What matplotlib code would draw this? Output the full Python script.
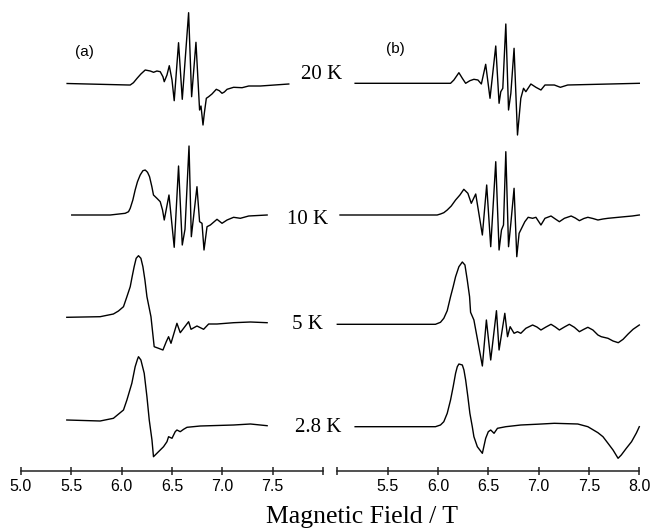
import numpy as np
import matplotlib.pyplot as plt

# (a) measured EPR spectra: field (T) and derivative signal (arb. units)
a20_field = [5.458, 6.068, 6.085, 6.117, 6.153, 6.191, 6.234, 6.284, 6.317, 6.350,
             6.383, 6.410, 6.423, 6.450, 6.473, 6.500, 6.522, 6.565, 6.602, 6.665,
             6.695, 6.738, 6.774, 6.788, 6.808, 6.821, 6.841, 6.864, 6.897, 6.940,
             6.970, 6.997, 7.020, 7.047, 7.112, 7.196, 7.262, 7.378, 7.660]
a20_signal = [1.0, -0.5, -0.5, 1.8, 6.2, 10.5, 14.5, 13.5, 12.2, 13.5,
              12.8, 7.8, 2.8, 9.5, 18.8, 4.5, -16.2, 41.8, -14.8, 71.8,
              -12.2, 42.2, -25.5, -21.5, -40.5, -28.8, -13.8, -12.2, -9.5, -4.8,
              -6.2, -8.8, -7.5, -4.8, -2.8, -3.2, -1.5, -1.5, 0.5]

a10_field = [5.504, 5.886, 6.035, 6.068, 6.085, 6.111, 6.134, 6.157, 6.184, 6.211,
             6.234, 6.257, 6.277, 6.300, 6.316, 6.350, 6.383, 6.406, 6.423, 6.470,
             6.522, 6.565, 6.602, 6.629, 6.669, 6.692, 6.748, 6.774, 6.798, 6.818,
             6.848, 6.881, 6.947, 6.997, 7.047, 7.112, 7.179, 7.262, 7.445]
a10_signal = [0.0, 0.0, 1.7, 3.3, 6.7, 15.0, 25.0, 33.3, 40.0, 44.3,
              45.0, 42.7, 38.3, 28.3, 20.0, 16.7, 13.3, 5.0, -5.0, 20.0,
              -32.3, 49.0, -30.0, -14.3, 69.0, -21.7, 28.3, -6.7, -8.3, -35.0,
              -11.7, -10.0, -4.3, -8.3, -5.0, -2.3, -3.3, -1.0, 0.0]

a5_field = [5.455, 5.786, 5.918, 5.968, 6.018, 6.052, 6.085, 6.104, 6.124, 6.144,
            6.167, 6.191, 6.211, 6.231, 6.251, 6.291, 6.323, 6.366, 6.410, 6.443,
            6.466, 6.490, 6.549, 6.582, 6.665, 6.689, 6.748, 6.814, 6.864, 6.947,
            7.112, 7.279, 7.445]
a5_signal = [0.0, 0.6, 3.3, 6.3, 10.6, 20.6, 30.6, 40.6, 50.6, 59.0,
             61.6, 59.0, 50.6, 37.3, 20.6, 0.6, -29.4, -31.0, -32.7, -24.4,
             -19.4, -26.0, -6.0, -15.4, -4.4, -12.0, -8.7, -12.0, -6.7, -6.7,
             -5.4, -4.7, -5.4]

a28_field = [5.455, 5.786, 5.918, 6.018, 6.052, 6.101, 6.134, 6.157, 6.167, 6.191,
             6.224, 6.251, 6.274, 6.301, 6.316, 6.350, 6.383, 6.416, 6.450, 6.466,
             6.500, 6.532, 6.549, 6.582, 6.615, 6.649, 6.781, 7.112, 7.279, 7.445]
a28_signal = [0.0, -1.0, 1.7, 10.0, 20.0, 36.7, 53.3, 60.7, 63.3, 60.0,
              46.7, 23.3, 0.0, -20.0, -36.7, -33.3, -30.0, -26.7, -21.7, -16.7,
              -18.3, -11.7, -10.0, -11.7, -9.3, -7.3, -6.0, -5.0, -4.0, -5.7]

# (b) simulated spectra
b20_field = [5.177, 6.125, 6.158, 6.208, 6.242, 6.275, 6.317, 6.357, 6.397, 6.431,
             6.474, 6.517, 6.574, 6.607, 6.624, 6.644, 6.674, 6.701, 6.724, 6.756,
             6.790, 6.823, 6.850, 6.873, 6.923, 6.973, 7.023, 7.063, 7.156, 7.216,
             7.289, 8.0]
b20_signal = [0.0, 0.0, 3.3, 10.6, 5.0, 0.0, 2.6, 4.0, 3.3, -0.7,
              19.0, -15.0, 37.3, -20.0, -8.4, -5.0, 59.3, -26.7, -10.0, 35.0,
              -51.7, -15.0, -5.0, -8.4, -0.7, -4.0, -6.7, -1.7, -1.7, -4.0,
              -1.7, 0.0]

b10_field = [5.027, 5.992, 6.025, 6.058, 6.092, 6.132, 6.175, 6.218, 6.257, 6.297,
             6.331, 6.375, 6.441, 6.484, 6.524, 6.574, 6.607, 6.631, 6.651, 6.674,
             6.701, 6.724, 6.756, 6.783, 6.806, 6.863, 6.896, 6.940, 6.973, 7.023,
             7.063, 7.123, 7.166, 7.206, 7.256, 7.323, 7.364, 7.405, 7.449, 7.489,
             7.539, 7.589, 7.639, 7.689, 7.771, 7.854, 7.930, 8.0]
b10_signal = [0.0, 0.0, 1.0, 2.3, 5.0, 9.0, 15.0, 20.0, 25.7, 21.7,
              11.7, 21.0, -20.0, 30.0, -31.7, 53.3, -35.0, -15.0, -10.0, 63.3,
              -31.7, -8.3, 26.7, -41.7, -18.3, -6.7, -2.3, -3.3, -2.3, -10.0,
              -3.3, -1.0, -4.0, -6.7, -3.3, -1.0, -3.0, -5.7, -3.5, -2.3,
              -3.5, -5.0, -4.0, -3.3, -2.5, -1.7, -1.0, 0.0]

b5_field = [5.0, 5.975, 6.025, 6.058, 6.092, 6.125, 6.151, 6.175, 6.208, 6.242,
            6.268, 6.291, 6.314, 6.324, 6.357, 6.441, 6.481, 6.524, 6.581, 6.607,
            6.664, 6.691, 6.717, 6.756, 6.790, 6.823, 6.873, 6.940, 6.983, 7.023,
            7.073, 7.123, 7.166, 7.206, 7.256, 7.305, 7.355, 7.405, 7.449, 7.489,
            7.539, 7.589, 7.622, 7.689, 7.739, 7.791, 7.839, 7.889, 7.938, 8.0]
b5_signal = [0.0, 0.0, 2.0, 6.0, 13.6, 27.6, 37.6, 47.6, 57.6, 62.3,
             59.3, 44.3, 27.6, 12.0, 4.3, -41.7, 4.3, -35.7, 13.6, -25.7,
             11.0, -12.4, -2.4, -9.0, -7.4, -9.0, -4.0, -0.7, -2.7, -5.7,
             -2.7, 0.0, -2.7, -5.7, -2.7, 0.0, -3.0, -7.4, -5.0, -3.0,
             -5.7, -10.7, -12.4, -14.0, -16.7, -18.4, -15.0, -9.7, -5.0, -0.7]

b28_field = [5.177, 5.975, 6.025, 6.058, 6.092, 6.125, 6.151, 6.175, 6.192, 6.208,
             6.242, 6.258, 6.275, 6.297, 6.317, 6.341, 6.357, 6.391, 6.441, 6.474,
             6.500, 6.524, 6.557, 6.591, 6.674, 6.823, 6.990, 7.156, 7.389, 7.489,
             7.589, 7.639, 7.689, 7.739, 7.789, 7.821, 7.871, 7.923, 7.971, 8.0]
b28_signal = [0.0, 0.0, 1.7, 5.0, 13.4, 26.7, 40.0, 53.4, 60.0, 62.7,
              61.7, 56.7, 46.7, 30.0, 13.4, 0.0, -10.0, -20.0, -26.6, -11.6,
              -5.0, -3.3, -6.6, -1.6, 0.0, 1.7, 2.5, 3.4, 2.7, 0.0,
              -6.0, -10.0, -16.6, -23.3, -31.6, -28.3, -21.6, -15.0, -6.3, 0.0]

temps = ['20 K', '10 K', '5 K', '2.8 K']

# vertical stacking of the traces
a_offsets = [386.2, 255.7, 153.4, 50.7]
b_offsets = [387.4, 255.7, 146.4, 44.0]
label_x = [7.99, 7.85, 7.85, 7.95]
label_y = [396.4, 250.7, 146.2, 42.7]

a_traces = [(a20_field, a20_signal), (a10_field, a10_signal),
            (a5_field, a5_signal), (a28_field, a28_signal)]
b_traces = [(b20_field, b20_signal), (b10_field, b10_signal),
            (b5_field, b5_signal), (b28_field, b28_signal)]

W, H = 653, 529
fig = plt.figure(figsize=(W / 100, H / 100), dpi=100)
ax_a = fig.add_axes([21 / W, (H - 470.7) / H, 302 / W, 470.7 / H])
ax_b = fig.add_axes([337.3 / W, (H - 470.7) / H, 302 / W, 470.7 / H])

ticks = np.arange(5.0, 8.01, 0.5)
tick_text = ['%.1f' % t for t in ticks]

for ax, traces, offs in [(ax_a, a_traces, a_offsets), (ax_b, b_traces, b_offsets)]:
    for (fld, sig), off in zip(traces, offs):
        ax.plot(fld, np.array(sig) + off, color='black', lw=1.0,
                solid_joinstyle='round', clip_on=False)
    ax.set_xlim(5.0, 8.0)
    ax.set_ylim(0, 470.7)
    for s in ['top', 'left', 'right']:
        ax.spines[s].set_visible(False)
    ax.spines['bottom'].set_linewidth(1.1)
    ax.spines['bottom'].set_color('#222222')
    ax.set_yticks([])
    ax.set_xticks(ticks)
    ax.tick_params(axis='x', direction='inout', length=6, width=1.1,
                   color='#222222', pad=3, labelsize=11.5)
    ax.patch.set_visible(False)

ax_a.set_xticklabels(tick_text[:-1] + [''], family='Liberation Sans')
ax_b.set_xticklabels([''] + tick_text[1:], family='Liberation Sans')

for t, x, y in zip(temps, label_x, label_y):
    ax_a.text(x, y, t, ha='center', va='center', fontsize=15,
              family='Liberation Serif', clip_on=False)

ax_a.text(5.63, 419.0, '(a)', ha='center', va='center', fontsize=11,
          family='Liberation Sans')
ax_b.text(5.58, 422.0, '(b)', ha='center', va='center', fontsize=11,
          family='Liberation Sans')

fig.text(362 / W, (H - 523) / H, 'Magnetic Field / T', ha='center',
         va='baseline', fontsize=18.5, family='Liberation Serif')

fig.savefig('out.png', dpi=100)
